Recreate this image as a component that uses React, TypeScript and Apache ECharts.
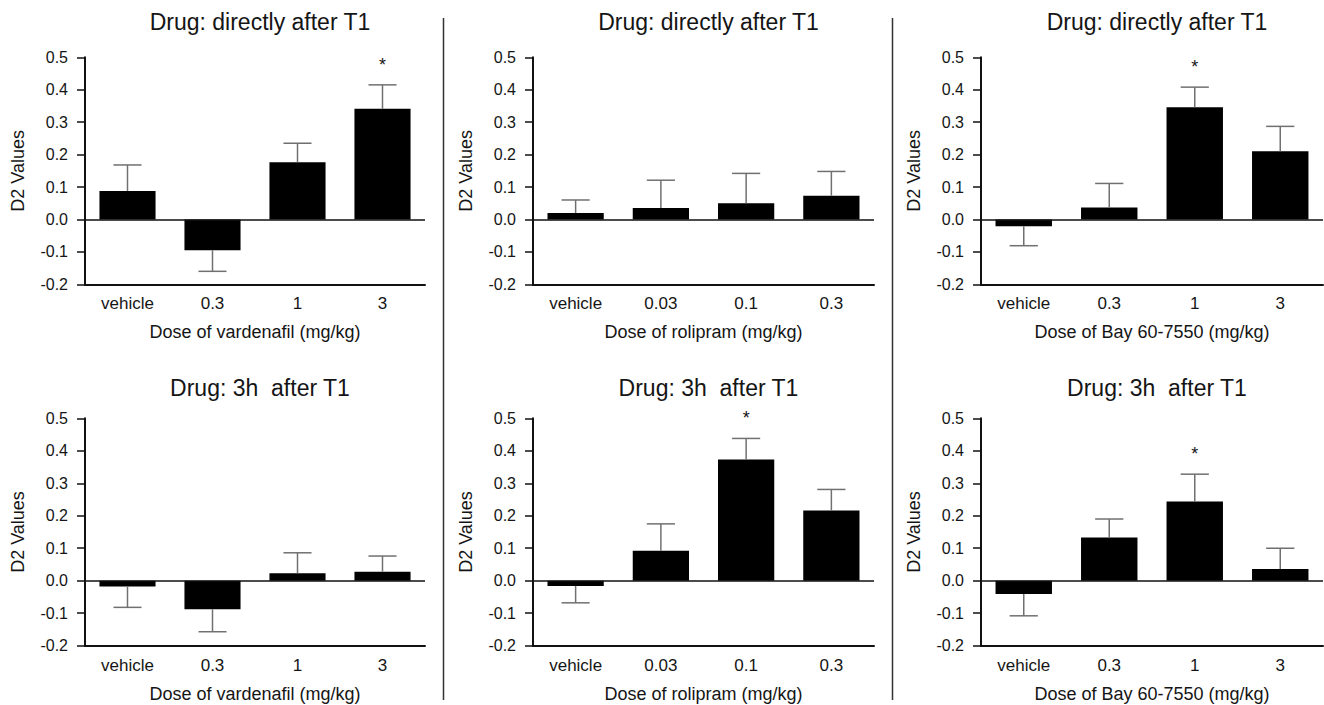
import React, { useEffect, useRef } from "react";
import * as echarts from "echarts";

const vardCats = ["vehicle", "0.3", "1", "3"];
const roliCats = ["vehicle", "0.03", "0.1", "0.3"];
const bayCats = ["vehicle", "0.3", "1", "3"];

const yTicks = [-0.2, -0.1, 0.0, 0.1, 0.2, 0.3, 0.4, 0.5];

const vardDirect = [0.088, -0.095, 0.176, 0.341];
const vardDirectSem = [0.08, 0.065, 0.059, 0.074];
const vardDirectSig = [0, 0, 0, 1];

const roliDirect = [0.02, 0.035, 0.05, 0.073];
const roliDirectSem = [0.04, 0.086, 0.092, 0.075];
const roliDirectSig = [0, 0, 0, 0];

const bayDirect = [-0.021, 0.037, 0.346, 0.21];
const bayDirectSem = [0.06, 0.074, 0.062, 0.077];
const bayDirectSig = [0, 0, 1, 0];

const vard3h = [-0.018, -0.088, 0.023, 0.028];
const vard3hSem = [0.064, 0.069, 0.063, 0.048];
const vard3hSig = [0, 0, 0, 0];

const roli3h = [-0.016, 0.092, 0.373, 0.216];
const roli3hSem = [0.052, 0.083, 0.065, 0.065];
const roli3hSig = [0, 0, 1, 0];

const bay3h = [-0.041, 0.133, 0.244, 0.036];
const bay3hSem = [0.067, 0.057, 0.084, 0.064];
const bay3hSig = [0, 0, 1, 0];

const titleDirect = "Drug: directly after T1";
const title3h = "Drug: 3h  after T1";
const xNames = [
  "Dose of vardenafil (mg/kg)",
  "Dose of rolipram (mg/kg)",
  "Dose of Bay 60-7550 (mg/kg)",
];
const yName = "D2 Values";

const FONT = "'Liberation Sans', Arial, sans-serif";
const TEXT = "#151515";

export default function App() {
  const ref = useRef<HTMLDivElement>(null);
  useEffect(() => {
    if (!ref.current) return;
    const chart = echarts.init(ref.current, null, { renderer: "svg" });

    const panels = [
      { cats: vardCats, vals: vardDirect, sem: vardDirectSem, sig: vardDirectSig, title: titleDirect, xName: xNames[0] },
      { cats: roliCats, vals: roliDirect, sem: roliDirectSem, sig: roliDirectSig, title: titleDirect, xName: xNames[1] },
      { cats: bayCats, vals: bayDirect, sem: bayDirectSem, sig: bayDirectSig, title: titleDirect, xName: xNames[2] },
      { cats: vardCats, vals: vard3h, sem: vard3hSem, sig: vard3hSig, title: title3h, xName: xNames[0] },
      { cats: roliCats, vals: roli3h, sem: roli3hSem, sig: roli3hSig, title: title3h, xName: xNames[1] },
      { cats: bayCats, vals: bay3h, sem: bay3hSem, sig: bay3hSig, title: title3h, xName: xNames[2] },
    ];

    const colLeft = [85, 533, 981];
    const colWidth = [340, 341, 342];
    const rowTop = [57.3, 418.3];
    const rowHeight = [227, 227.4];
    const titleTop = [5, 371];

    const grids: any[] = [];
    const xAxes: any[] = [];
    const yAxes: any[] = [];
    const series: any[] = [];
    const titles: any[] = [];

    panels.forEach((p, k) => {
      const c = k % 3;
      const r = Math.floor(k / 3);
      grids.push({
        left: colLeft[c],
        top: rowTop[r],
        width: colWidth[c],
        height: rowHeight[r],
        containLabel: false,
      });
      titles.push({
        text: p.title,
        left: colLeft[c] + colWidth[c] / 2,
        top: titleTop[r],
        textAlign: "center",
        textStyle: { fontFamily: FONT, fontSize: 23, fontWeight: "normal", color: TEXT },
      });
      xAxes.push({
        type: "category",
        gridIndex: k,
        data: p.cats,
        axisLine: { onZero: false, lineStyle: { color: "#111", width: 2 } },
        axisTick: { show: false },
        axisLabel: { fontFamily: FONT, fontSize: 17, color: TEXT, margin: 11 },
        name: p.xName,
        nameLocation: "middle",
        nameGap: 39,
        nameTextStyle: { fontFamily: FONT, fontSize: 18, color: TEXT },
      });
      yAxes.push({
        type: "value",
        gridIndex: k,
        min: yTicks[0],
        max: yTicks[yTicks.length - 1],
        interval: 0.1,
        splitLine: { show: false },
        axisLine: { show: true, lineStyle: { color: "#111", width: 2 } },
        axisTick: { show: true, length: 8, lineStyle: { color: "#111", width: 1.5 } },
        axisLabel: {
          fontFamily: FONT,
          fontSize: 16,
          color: TEXT,
          margin: 17,
          formatter: (v: number) => v.toFixed(1),
        },
        name: yName,
        nameLocation: "middle",
        nameGap: 58,
        nameTextStyle: { fontFamily: FONT, fontSize: 18, color: TEXT },
      });
      series.push({
        type: "bar",
        xAxisIndex: k,
        yAxisIndex: k,
        data: p.vals,
        barWidth: "66%",
        itemStyle: { color: "#000" },
        markLine: {
          silent: true,
          symbol: ["none", "none"],
          label: { show: false },
          lineStyle: { color: "#111", width: 1.5, type: "solid" },
          data: [{ yAxis: 0 }],
        },
      });
      series.push({
        type: "custom",
        xAxisIndex: k,
        yAxisIndex: k,
        z: 5,
        data: p.vals.map((v, i) => [i, v, v + (v >= 0 ? 1 : -1) * p.sem[i], p.sig[i]]),
        encode: { x: 0, y: 1 },
        renderItem: (params: any, api: any) => {
          const i = api.value(0);
          const v = api.value(1);
          const e = api.value(2);
          const s = api.value(3);
          const p0 = api.coord([i, v]);
          const p1 = api.coord([i, e]);
          const bw = api.size([1, 0])[0];
          const half = (bw * 0.66) / 4;
          const style = { stroke: "#707070", lineWidth: 1.5 };
          const children: any[] = [
            { type: "line", shape: { x1: p0[0], y1: p0[1], x2: p1[0], y2: p1[1] }, style },
            { type: "line", shape: { x1: p1[0] - half, y1: p1[1], x2: p1[0] + half, y2: p1[1] }, style },
          ];
          if (s) {
            children.push({
              type: "text",
              x: p1[0],
              y: p1[1] - 11,
              style: {
                text: "*",
                fontFamily: FONT,
                fontSize: 18,
                fill: TEXT,
                textAlign: "center",
                textVerticalAlign: "bottom",
              },
            });
          }
          return { type: "group", children };
        },
      });
    });

    chart.setOption({
      animation: false,
      backgroundColor: "#fff",
      title: titles,
      grid: grids,
      xAxis: xAxes,
      yAxis: yAxes,
      series,
      graphic: [
        { type: "line", shape: { x1: 443.5, y1: 18, x2: 443.5, y2: 700 }, style: { stroke: "#333", lineWidth: 1.5 } },
        { type: "line", shape: { x1: 892.5, y1: 18, x2: 892.5, y2: 700 }, style: { stroke: "#333", lineWidth: 1.5 } },
      ],
    });
    return () => chart.dispose();
  }, []);
  return (
    <div
      ref={ref}
      style={{ position: "fixed", left: 0, top: 0, width: 1324, height: 705, background: "#fff" }}
    />
  );
}
